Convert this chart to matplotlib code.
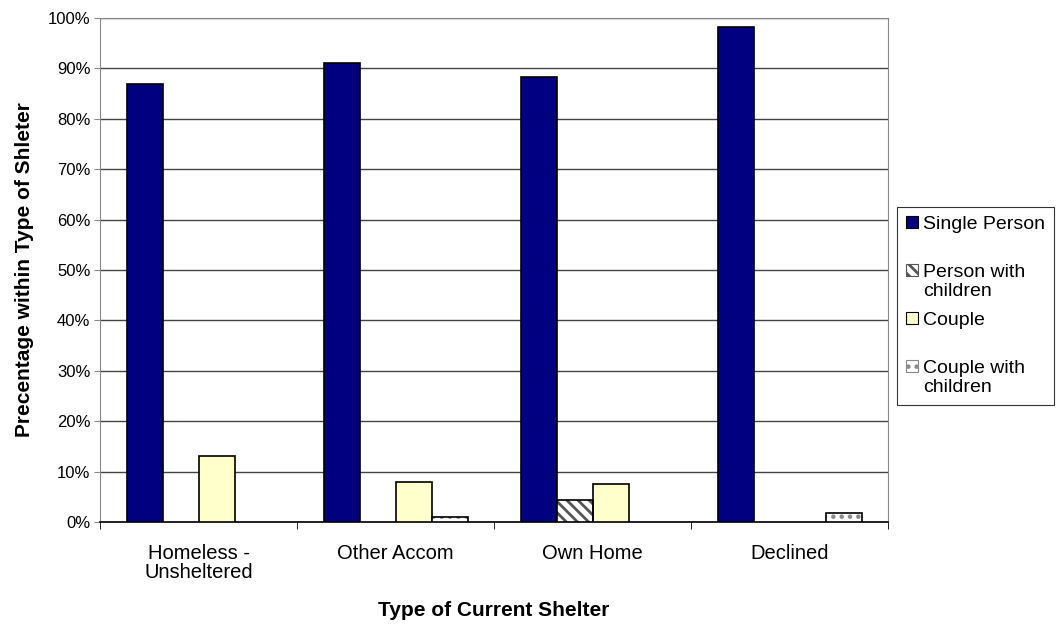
import matplotlib.pyplot as plt
from matplotlib.patches import Patch, Rectangle
from matplotlib.legend_handler import HandlerPatch
import numpy as np

plt.rcParams['font.family'] = ['Liberation Sans', 'DejaVu Sans']
plt.rcParams['hatch.linewidth'] = 2.0

categories = ['Homeless -\nUnsheltered', 'Other Accom', 'Own Home', 'Declined']
series_names = ['Single Person', 'Person with\nchildren', 'Couple', 'Couple with\nchildren']
single_person = [87.0, 91.0, 88.3, 98.2]
person_with_children = [0.0, 0.0, 4.3, 0.0]
couple = [13.1, 7.9, 7.5, 0.0]
couple_with_children = [0.0, 1.0, 0.0, 1.8]

series = [single_person, person_with_children, couple, couple_with_children]
faces = ['#000080', '#ffffff', '#ffffcc', '#ffffff']
hatches = [None, '\\\\\\', None, '..']
hatch_colors = ['black', '#555555', 'black', '#888888']

fig = plt.figure(figsize=(10.56, 6.26), dpi=100)
ax = fig.add_axes([100 / 1056, 1 - 522 / 626, 788 / 1056, 504 / 626])

x = np.arange(len(categories))
width = 36 / 197
for i, vals in enumerate(series):
    pos = x + (i - 1.5) * width
    edges = ['black' if v > 0 else 'none' for v in vals]
    if hatches[i]:
        # hatch drawn in grey first, black outline on top
        ax.bar(pos, vals, width, color=faces[i], edgecolor=hatch_colors[i],
               hatch=hatches[i], linewidth=0, zorder=3)
        ax.bar(pos, vals, width, color='none', edgecolor=edges,
               linewidth=1.2, zorder=4)
    else:
        ax.bar(pos, vals, width, color=faces[i], edgecolor=edges,
               linewidth=1.2, zorder=3)

ax.set_xlim(-0.5, len(categories) - 0.5)
ax.set_ylim(0, 100)
ax.set_yticks(np.arange(0, 101, 10))
ax.set_yticklabels([f'{v}%' for v in range(0, 101, 10)], fontsize=12)
ax.set_xticks(x)
ax.set_xticklabels(categories, fontsize=14.5, linespacing=1.0)
ax.set_xticks(np.arange(-0.5, len(categories)), minor=True)
ax.tick_params(axis='x', which='major', length=0, pad=15.5)
ax.tick_params(axis='x', which='minor', length=5, direction='out', color='black')
ax.tick_params(axis='y', length=4, direction='out', color='#888888', pad=3)

ax.yaxis.grid(True, color='#444444', linewidth=1, zorder=0)
ax.set_axisbelow(True)
for side in ['top', 'right', 'left']:
    ax.spines[side].set_color('#888888')
ax.spines['bottom'].set_color('black')
ax.spines['bottom'].set_linewidth(1.2)

ax.set_ylabel('Precentage within Type of Shleter', fontsize=15, fontweight='bold', labelpad=10)
ax.set_xlabel('Type of Current Shelter', fontsize=15, fontweight='bold', labelpad=14)


def small_square(legend, orig_handle, xdescent, ydescent, width, height, fontsize):
    s = 0.62 * fontsize
    return Rectangle((-xdescent + (width - s) / 2, -ydescent + height - s - 0.02 * fontsize), s, s)


proxies = [Patch(facecolor=faces[i], edgecolor='black' if not hatches[i] else hatch_colors[i],
                 hatch=hatches[i], linewidth=0.8) for i in range(4)]
# every entry gets two lines so all entries sit on the same pitch
labels = [n if '\n' in n else n + '\n ' for n in series_names]
leg = fig.legend(proxies, labels, loc='center left',
                 bbox_to_anchor=(897 / 1056, 1 - 306 / 626), fontsize=14,
                 frameon=True, fancybox=False, edgecolor='black',
                 handlelength=0.62, handleheight=1.0, handletextpad=0.26,
                 labelspacing=0.58, borderpad=0.45, borderaxespad=0,
                 handler_map={Patch: HandlerPatch(patch_func=small_square)})
leg.get_frame().set_linewidth(0.8)
for col in leg._legend_handle_box.get_children():
    for row in col.get_children():
        row.align = 'top'

fig.savefig('out.png', dpi=100)
